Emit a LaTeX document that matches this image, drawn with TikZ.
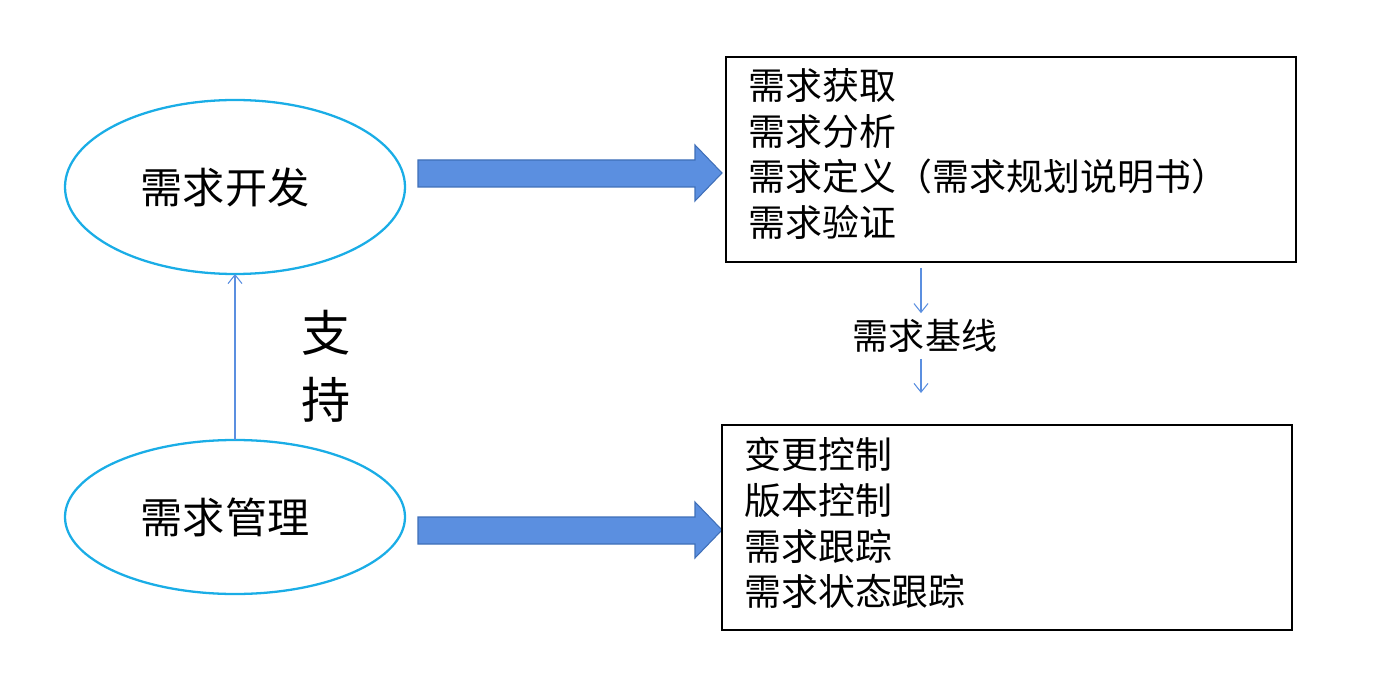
\documentclass[tikz,border=0pt]{standalone}
\usepackage{fontspec}
\newfontfamily\cjk{Noto Sans CJK SC}
\usetikzlibrary{arrows.meta}
\definecolor{ell}{HTML}{1AADE6}
\definecolor{fat}{HTML}{5B8FE0}
\definecolor{fatb}{HTML}{3F6FB8}
\tikzset{
 x=0.02cm,y=-0.02cm,
 fatarrow/.style={draw=fatb,fill=fat,line width=0.6pt,line join=miter},
 listbox/.style={draw=black,line width=1pt},
 thin/.style={draw=fat,line width=0.6pt,-{Straight Barb[length=5pt,width=8pt]}},
 listtxt/.style={anchor=north west,align=left,inner sep=0,font=\cjk\fontsize{21}{26}\selectfont},
}
\begin{document}
\begin{tikzpicture}[font=\cjk]
\useasboundingbox (0,0) rectangle (1392,675);
\draw[ell,line width=1.3pt] (235,187) ellipse [x radius=170*0.02cm,y radius=87*0.02cm];
\node[font=\cjk\fontsize{24}{28}\selectfont] (dev) at (225,187) {需求开发};
\draw[ell,line width=1.3pt] (235,517) ellipse [x radius=170*0.02cm,y radius=77*0.02cm];
\node[font=\cjk\fontsize{24}{28}\selectfont] (mgmt) at (225,517) {需求管理};
\coordinate (mtop) at (235,440);
\coordinate (dbot) at (235,274);
\draw[thin] (mtop) -- (dbot);
\node[font=\cjk\fontsize{28}{30}\selectfont] (s1) at (326,333) {支};
\node[font=\cjk\fontsize{28}{30}\selectfont] (s2) at (326,400) {持};
\foreach \y in {173,530}{
\draw[fatarrow] (418,\y-13) -- (695,\y-13) -- (695,\y-28) -- (722,\y) -- (695,\y+28) -- (695,\y+14) -- (418,\y+14) -- cycle;}
\draw[listbox] (726,57) rectangle (1296,262);
\node[listtxt] (l1) at (748,68) {需求获取\\需求分析\\需求定义（需求规划说明书）\\需求验证};
\draw[listbox] (722,425) rectangle (1292,630);
\node[listtxt] (l2) at (744,437) {变更控制\\版本控制\\需求跟踪\\需求状态跟踪};
\node[font=\cjk\fontsize{20.5}{24}\selectfont] (base) at (925,336) {需求基线};
\coordinate (b1) at (921,268);
\coordinate (b2) at (921,393);
\draw[thin] (b1) -- (base.north -| b1);
\draw[thin] (base.south -| b1) -- (b2);
\end{tikzpicture}
\end{document}
